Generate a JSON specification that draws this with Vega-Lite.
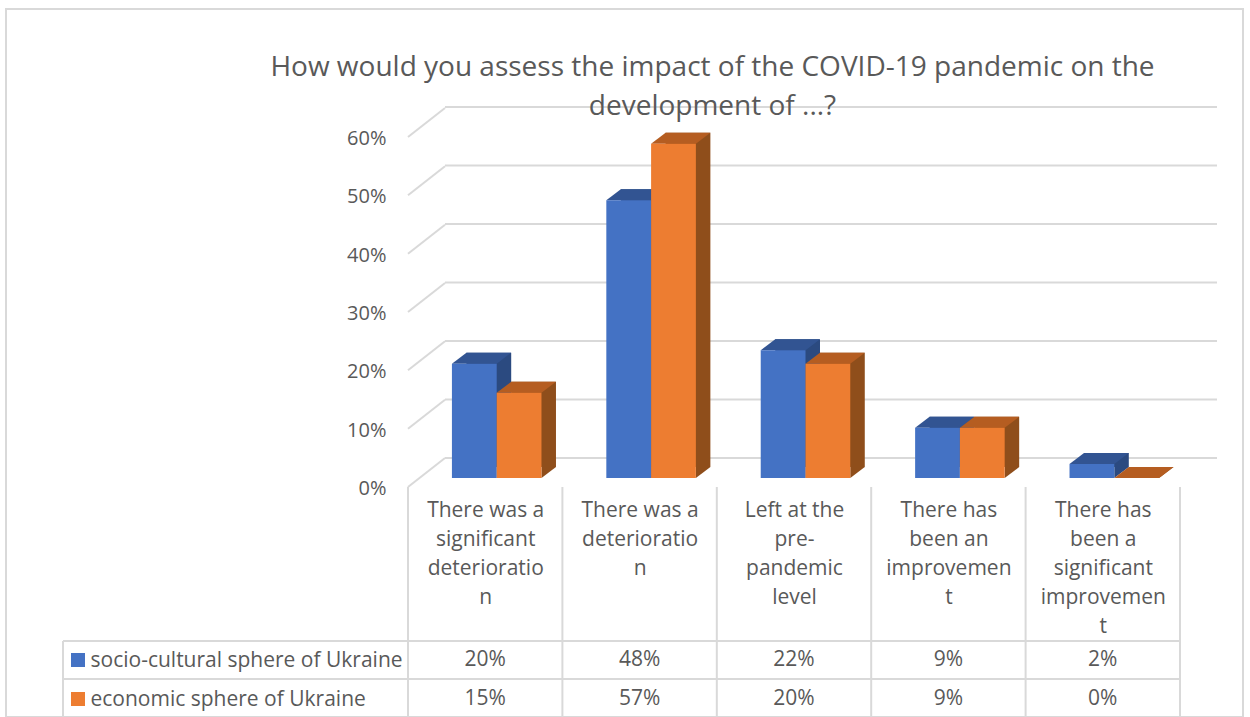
{
"$schema":"https://vega.github.io/schema/vega-lite/v6.json",
"autosize":{"type":"none"},
"padding":{"left":6,"top":9,"right":7,"bottom":0},
"width":1237,"height":708,
"background":"white",
"view":{"stroke":"#d9d9d9","strokeWidth":2,"fill":"white"},
"config":{"font":"Open Sans"},
"title":{"text":["How would you assess the impact of the COVID-19 pandemic on the","development of ...?"],"font":"Open Sans","fontSize":28,"fontWeight":"normal","color":"#595959","anchor":"middle","frame":"group","dx":88,"offset":-112,"lineHeight":39},
"datasets":{
"answers":[
{"category":"There was a|significant|deterioratio|n","series":"socio-cultural sphere of Ukraine","share":0.196},
{"category":"There was a|deterioratio|n","series":"socio-cultural sphere of Ukraine","share":0.476},
{"category":"Left at the|pre-|pandemic|level","series":"socio-cultural sphere of Ukraine","share":0.219},
{"category":"There has|been an|improvemen|t","series":"socio-cultural sphere of Ukraine","share":0.086},
{"category":"There has|been a|significant|improvemen|t","series":"socio-cultural sphere of Ukraine","share":0.024},
{"category":"There was a|significant|deterioratio|n","series":"economic sphere of Ukraine","share":0.146},
{"category":"There was a|deterioratio|n","series":"economic sphere of Ukraine","share":0.573},
{"category":"Left at the|pre-|pandemic|level","series":"economic sphere of Ukraine","share":0.196},
{"category":"There has|been an|improvemen|t","series":"economic sphere of Ukraine","share":0.086},
{"category":"There has|been a|significant|improvemen|t","series":"economic sphere of Ukraine","share":0}
],
"levels":[{"level":0},{"level":0.1},{"level":0.2},{"level":0.3},{"level":0.4},{"level":0.5},{"level":0.6}],
"edges":[{"edge":0},{"edge":1},{"edge":2},{"edge":3},{"edge":4},{"edge":5}],
"rows":[{"line":0},{"line":1},{"line":2}],
"series":[{"series":"socio-cultural sphere of Ukraine"},{"series":"economic sphere of Ukraine"}]
},
"resolve":{"scale":{"x":"independent","y":"independent","color":"independent","xOffset":"independent"},"axis":{"x":"independent","y":"independent"}},
"layer":[
{"data":{"name":"levels"},"mark":{"type":"rule","color":"#d9d9d9","strokeWidth":2},
 "encoding":{"x":{"datum":0,"type":"quantitative","axis":null,"scale":{"domain":[0,1],"range":[439,1211]}},"x2":{"datum":1},
 "y":{"field":"level","type":"quantitative","axis":null,"scale":{"domain":[0,0.6],"range":[449,98]}}}},
{"data":{"name":"levels"},"mark":{"type":"point","shape":"M0,0L37,-29","size":4,"filled":false,"stroke":"#d9d9d9","strokeWidth":2,"opacity":1},
 "encoding":{"x":{"datum":0,"type":"quantitative","axis":null,"scale":{"domain":[0,1],"range":[402,403]}},
 "y":{"field":"level","type":"quantitative","scale":{"domain":[0,0.6],"range":[478,128]},
 "axis":{"orient":"left","offset":-380,"format":".0%","values":[0,0.1,0.2,0.3,0.4,0.5,0.6],"domain":false,"ticks":false,"grid":false,"title":null,"labelPadding":0,"labelOffset":1.5,"labelFont":"Open Sans","labelFontSize":20,"labelColor":"#595959"}}}},
{"data":{"name":"edges"},"mark":{"type":"rule","color":"#d9d9d9","strokeWidth":2},
 "encoding":{"x":{"field":"edge","type":"quantitative","axis":null,"scale":{"domain":[0,5],"range":[402,1174]}},
 "y":{"datum":0,"type":"quantitative","axis":null,"scale":{"domain":[0,1],"range":[478,708]}},"y2":{"datum":1}}},
{"data":{"name":"rows"},"mark":{"type":"rule","color":"#d9d9d9","strokeWidth":2},
 "encoding":{"x":{"datum":0,"type":"quantitative","axis":null,"scale":{"domain":[0,1],"range":[57,1174]}},"x2":{"datum":1},
 "y":{"field":"line","type":"quantitative","axis":null,"scale":{"domain":[0,2],"range":[632,708]}}}},
{"data":{"values":[{"from":0,"to":1}]},"mark":{"type":"rule","color":"#d9d9d9","strokeWidth":2},
 "encoding":{"x":{"datum":0,"type":"quantitative","axis":null,"scale":{"domain":[0,1],"range":[57,58]}},
 "y":{"field":"from","type":"quantitative","axis":null,"scale":{"domain":[0,1],"range":[632,708]}},"y2":{"field":"to"}}},
{"data":{"name":"answers"},"mark":{"type":"bar"},
 "encoding":{"x":{"field":"category","type":"nominal","axis":null,"sort":null,"scale":{"range":[428,1200],"paddingInner":0.42,"paddingOuter":0.21}},
 "xOffset":{"field":"series","type":"nominal","sort":null},
 "y":{"field":"share","type":"quantitative","axis":null,"scale":{"domain":[0,0.6],"range":[458,108]}},
 "color":{"field":"series","type":"nominal","sort":null,"legend":null,"scale":{"range":["#2b4a80","#8f4e1b"]}}}},
{"data":{"name":"answers"},"mark":{"type":"point","shape":"M22.4,0L36.9,-11L22.4,-11Z","size":4,"filled":true,"opacity":1},
 "encoding":{"x":{"field":"category","type":"nominal","axis":null,"sort":null,"scale":{"range":[413.5,1185.5],"paddingInner":0.42,"paddingOuter":0.21}},
 "xOffset":{"field":"series","type":"nominal","sort":null},
 "y":{"datum":0,"type":"quantitative","axis":null,"scale":{"domain":[0,0.6],"range":[469,119]}},
 "color":{"field":"series","type":"nominal","sort":null,"legend":null,"scale":{"range":["#2b4a80","#8f4e1b"]}}}},
{"data":{"name":"answers"},"mark":{"type":"point","shape":"M-22.4,0L22.4,0L36.9,-11L-7.9,-11Z","size":4,"filled":true,"opacity":1},
 "encoding":{"x":{"field":"category","type":"nominal","axis":null,"sort":null,"scale":{"range":[413.5,1185.5],"paddingInner":0.42,"paddingOuter":0.21}},
 "xOffset":{"field":"series","type":"nominal","sort":null},
 "y":{"field":"share","type":"quantitative","axis":null,"scale":{"domain":[0,0.6],"range":[469,119]}},
 "color":{"field":"series","type":"nominal","sort":null,"legend":null,"scale":{"range":["#325492","#b55d21"]}}}},
{"data":{"name":"answers"},"mark":{"type":"bar"},
 "encoding":{"x":{"field":"category","type":"nominal","axis":null,"sort":null,"scale":{"range":[413.5,1185.5],"paddingInner":0.42,"paddingOuter":0.21}},
 "xOffset":{"field":"series","type":"nominal","sort":null},
 "y":{"field":"share","type":"quantitative","axis":null,"scale":{"domain":[0,0.6],"range":[469,119]}},
 "color":{"field":"series","type":"nominal","sort":null,"legend":null,"scale":{"range":["#4472c4","#ed7d31"]}}}},
{"data":{"name":"answers"},"mark":{"type":"text","font":"Open Sans","fontSize":21,"color":"#595959"},
 "encoding":{"x":{"field":"category","type":"nominal","sort":null,"scale":{"range":[402,1174],"paddingInner":0,"paddingOuter":0},
 "axis":{"orient":"bottom","offset":-230,"title":null,"domain":false,"ticks":false,"grid":false,"labelAngle":0,"labelLimit":0,"labelAlign":"center","labelBaseline":"top","labelPadding":12,"labelLineHeight":29,"labelFont":"Open Sans","labelFontSize":21,"labelColor":"#595959","labelExpr":"split(datum.label,'|')"}},
 "y":{"field":"series","type":"nominal","sort":null,"scale":{"type":"point","range":[651,690],"padding":0},
 "axis":{"orient":"left","offset":-84,"title":null,"domain":false,"ticks":false,"grid":false,"labelAlign":"left","labelPadding":0,"labelLimit":0,"labelFont":"Open Sans","labelFontSize":21,"labelColor":"#595959"}},
 "text":{"field":"share","type":"quantitative","format":".0%"}}},
{"data":{"name":"series"},"mark":{"type":"point","shape":"square","size":196,"filled":true,"opacity":1},
 "encoding":{"x":{"datum":0,"type":"quantitative","axis":null,"scale":{"domain":[0,1],"range":[72,73]}},
 "y":{"field":"series","type":"nominal","sort":null,"axis":null,"scale":{"type":"point","range":[651,690],"padding":0}},
 "color":{"field":"series","type":"nominal","sort":null,"legend":null,"scale":{"range":["#4472c4","#ed7d31"]}}}}
]
}
